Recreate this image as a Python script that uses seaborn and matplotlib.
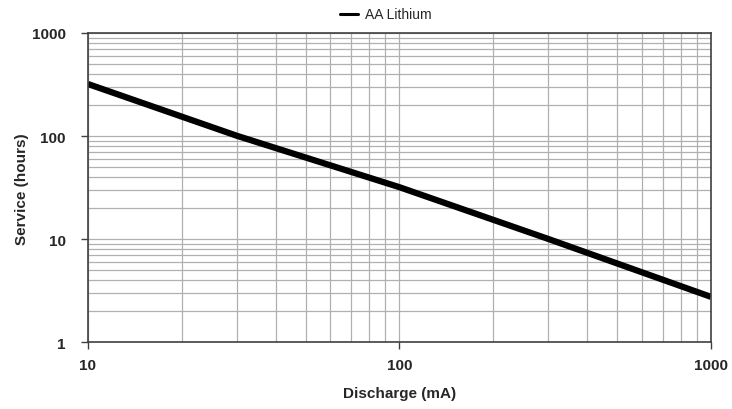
import matplotlib
matplotlib.use("Agg")
import matplotlib.pyplot as plt
import seaborn as sns
import pandas as pd
from matplotlib.lines import Line2D
from matplotlib.ticker import FixedLocator, NullFormatter, LogLocator

discharge_ma = [10, 30, 100, 300, 1000]
service_hours = [320, 101, 32, 10.1, 2.77]
series_name = "AA Lithium"
x_ticks = [10, 100, 1000]
y_ticks = [1, 10, 100, 1000]

sns.set_theme(style="white")
plt.rcParams['font.family'] = ['Liberation Sans', 'DejaVu Sans']

df = pd.DataFrame({"Discharge (mA)": discharge_ma, "Service (hours)": service_hours})

fig = plt.figure(figsize=(7.32, 4.10), dpi=100)
ax = fig.add_axes([0.1202, 0.1622, 0.851, 0.755])

sns.lineplot(data=df, x="Discharge (mA)", y="Service (hours)", ax=ax,
             color="black", linewidth=4.5, solid_capstyle="butt")
ax.set_xscale("log")
ax.set_yscale("log")
ax.set_xlim(10, 1000)
ax.set_ylim(1, 1000)

ax.xaxis.set_major_locator(FixedLocator(x_ticks))
ax.yaxis.set_major_locator(FixedLocator(y_ticks))
ax.set_xticklabels([str(v) for v in x_ticks], fontweight="bold", fontsize=11)
ax.set_yticklabels([str(v) for v in y_ticks], fontweight="bold", fontsize=11)
ax.xaxis.set_minor_locator(LogLocator(base=10, subs=range(2, 10)))
ax.yaxis.set_minor_locator(LogLocator(base=10, subs=range(2, 10)))
ax.xaxis.set_minor_formatter(NullFormatter())
ax.yaxis.set_minor_formatter(NullFormatter())

ax.grid(True, which="both", color="#b0b0b0", linewidth=0.9)
ax.set_axisbelow(True)
ax.tick_params(axis="both", which="major", length=5, width=1, color="#404040",
               direction="out", bottom=True, left=True)
ax.tick_params(axis="x", which="major", pad=6)
ax.tick_params(axis="y", which="major", pad=11)
ax.tick_params(axis="both", which="minor", length=0)
for s in ax.spines.values():
    s.set_color("#404040")
    s.set_linewidth(1.2)

ax.set_xlabel("Discharge (mA)", fontweight="bold", fontsize=11, labelpad=10)
ax.set_ylabel("Service (hours)", fontweight="bold", fontsize=11, labelpad=2)

handle = Line2D([0], [0], color="black", linewidth=2.2)
ax.legend([handle], [series_name], loc="center", bbox_to_anchor=(0.478, 1.06),
          frameon=False, fontsize=10, handlelength=1.3, handletextpad=0.5)

fig.savefig("out.png", dpi=100)
